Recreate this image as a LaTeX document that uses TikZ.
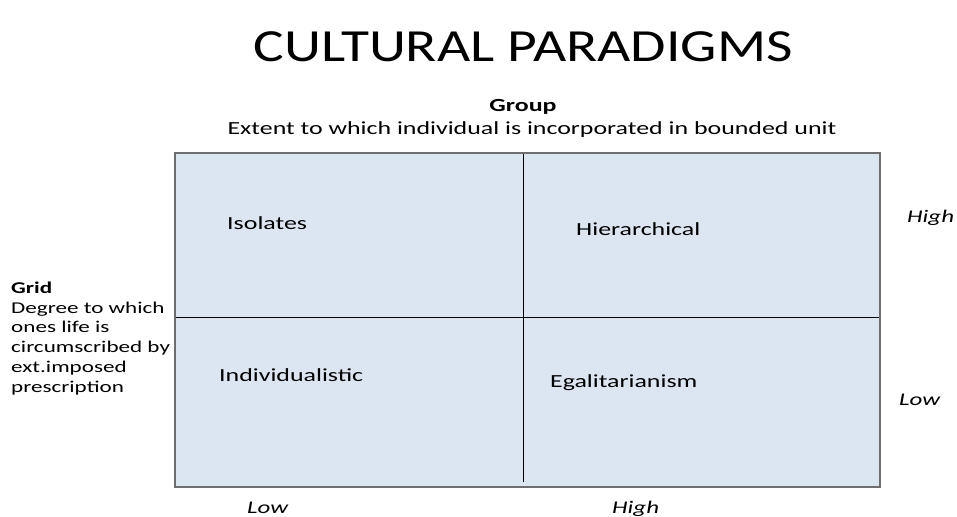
\documentclass[tikz,border=0pt]{standalone}
\usepackage{fontspec}
\setmainfont{Carlito}[FakeStretch=1.4]
\newfontfamily\headfont{Carlito}[FakeStretch=1.25]
\definecolor{cellfill}{HTML}{DCE6F2}
\definecolor{rimgray}{HTML}{6E6E6E}

\begin{document}
\begin{tikzpicture}[x=1pt,y=-1pt,
    body/.style={anchor=base west,inner sep=0pt,font=\fontsize{18.5}{20}\selectfont},
    axis/.style={body,font=\fontsize{17.8}{20}\selectfont\itshape}]
    \useasboundingbox (0,0) rectangle (957,516);
    \coordinate (NW) at (175,153);
    \coordinate (SE) at (880,487);
    \coordinate (ML) at (175,317);
    \coordinate (MR) at (880,317);
    \coordinate (MT) at (523,153);
    \coordinate (MB) at (523,482);
    \fill[cellfill] (NW) rectangle (SE);
    \draw (ML) -- (MR);
    \draw (MT) -- (MB);
    \draw[rimgray,line width=1.4pt] (NW) rectangle (SE);
    \node[anchor=base,inner sep=0pt,font=\headfont\fontsize{46}{50}\selectfont] (title) at (523,62) {CULTURAL PARADIGMS};
    % top axis
    \node[body,anchor=base,font=\fontsize{18.5}{20}\selectfont\bfseries] (group) at (523,111) {Group};
    \node[body,anchor=base] (groupdesc) at (532,134) {Extent to which individual is incorporated in bounded unit};
    % left axis
    \node[body,anchor=base west,align=left,font=\fontsize{16.5}{19.7}\selectfont] (grid) at (11,392)
        {\textbf{Grid}\\Degree to which\\ones life is\\circumscribed by\\ext.imposed\\prescription};
    % quadrants
    \node[body] (isolates) at (227,229) {Isolates};
    \node[body] (hier) at (576,235) {Hierarchical};
    \node[body] (indiv) at (219,381) {Individualistic};
    \node[body] (egal) at (550,387) {Egalitarianism};
    % levels
    \node[axis] (rhigh) at (907,222) {High};
    \node[axis] (rlow) at (899,405) {Low};
    \node[axis] (blow) at (247,513) {Low};
    \node[axis] (bhigh) at (612,513) {High};
\end{tikzpicture}
\end{document}
